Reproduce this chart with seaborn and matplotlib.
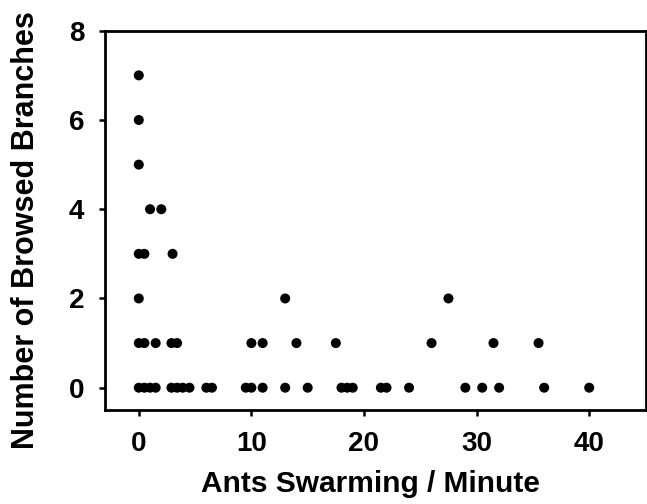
import pandas as pd
import matplotlib.pyplot as plt
import seaborn as sns

# Datos
ants_per_min = [0, 0.5, 1.0, 1.5, 2.9, 3.4, 3.9, 4.5, 6.0, 6.5, 9.5, 10.0, 11.0, 13.0,
                15.0, 18.0, 18.5, 19.0, 21.5, 22.0, 24.0, 29.0, 30.5, 32.0, 36.0, 40.0,
                0, 0.5, 1.5, 2.9, 3.4, 10.0, 11.0, 14.0, 17.5, 26.0, 31.5, 35.5,
                0, 13.0, 27.5,
                0, 0.5, 3.0,
                1.0, 2.0,
                0, 0, 0]
browsed = [0] * 26 + [1] * 12 + [2] * 3 + [3] * 3 + [4] * 2 + [5, 6, 7]

df = pd.DataFrame({"ants": ants_per_min, "browsed": browsed})

sns.set_style("ticks")
plt.rcParams["font.family"] = ["Liberation Sans", "DejaVu Sans"]
plt.rcParams["font.weight"] = "bold"
plt.rcParams["text.color"] = "black"
plt.rcParams["axes.labelcolor"] = "black"
plt.rcParams["xtick.color"] = "black"
plt.rcParams["ytick.color"] = "black"

fig = plt.figure(figsize=(6.47, 5.04), dpi=100)
ax = fig.add_axes([0.1623, 0.1865, 0.8354, 0.7525])

sns.scatterplot(data=df, x="ants", y="browsed", ax=ax, color="black", s=52,
                edgecolor="none", linewidth=0)

ax.set_xlim(-3, 45)
ax.set_ylim(-0.5, 8)
ax.set_xticks([0, 10, 20, 30, 40])
ax.set_yticks([0, 2, 4, 6, 8])

for sp in ax.spines.values():
    sp.set_linewidth(2.0)
    sp.set_color("black")

ax.tick_params(axis="both", direction="out", length=4, width=1.8, colors="black",
               labelsize=20)
ax.tick_params(axis="x", pad=11)
ax.tick_params(axis="y", pad=11)
for lab in ax.get_xticklabels() + ax.get_yticklabels():
    lab.set_fontweight("bold")

ax.set_xlabel("Ants Swarming / Minute", fontsize=21.5, fontweight="bold", color="black")
ax.set_ylabel("Number of Browsed Branches", fontsize=22, fontweight="bold", color="black")
ax.xaxis.set_label_coords(0.491, -0.195)
ax.yaxis.set_label_coords(-0.147, 0.475)
ax.xaxis.label.set_va("center")
ax.yaxis.label.set_va("center")

plt.savefig("out.png", dpi=100)
plt.close()
